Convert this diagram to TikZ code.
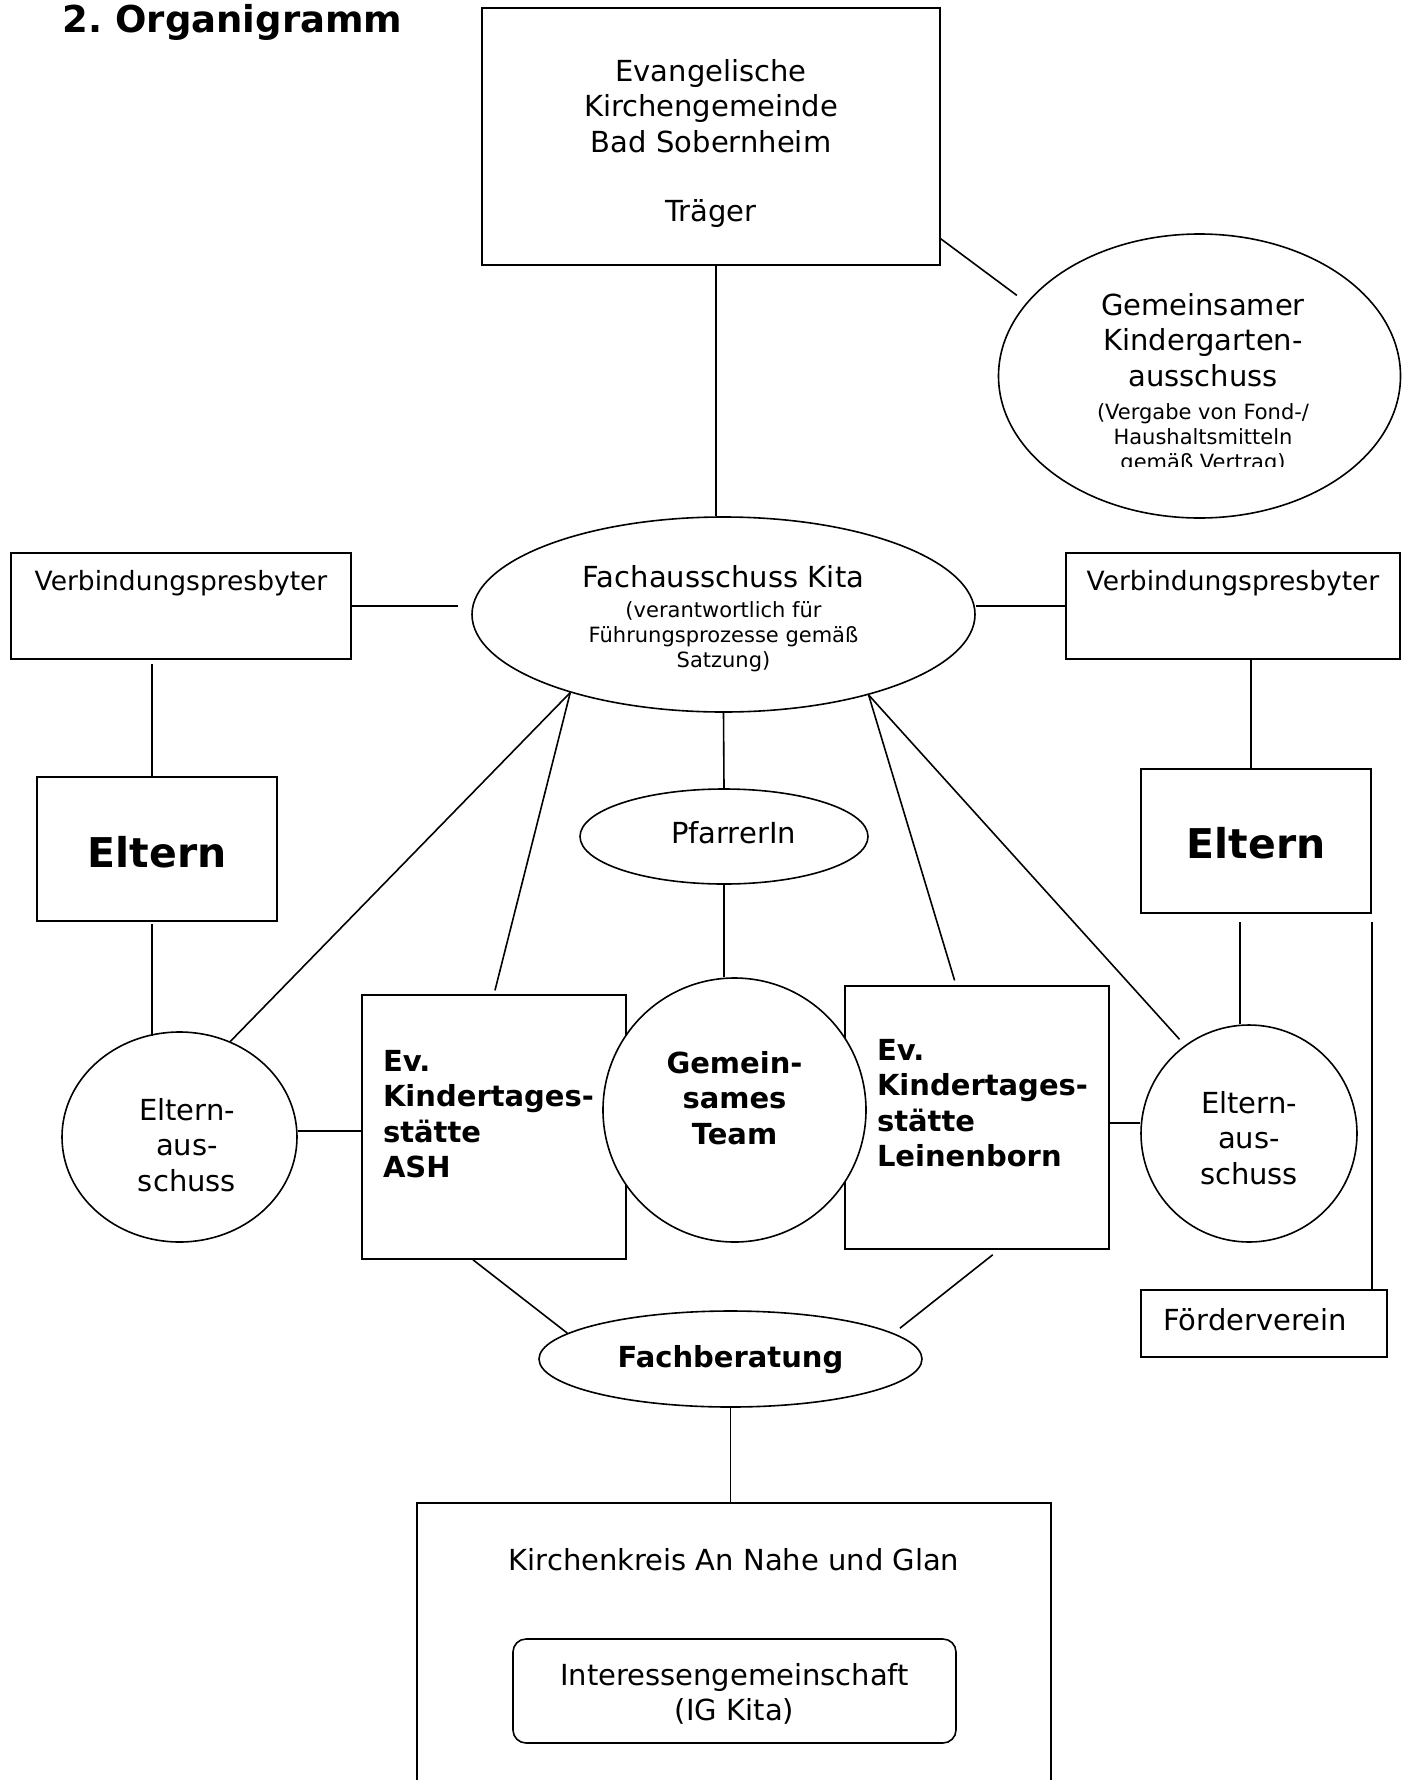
\documentclass[tikz,border=0pt]{standalone}
\usepackage{fontspec}
\setmainfont{DejaVu Sans}
\usetikzlibrary{shapes.geometric}
\frenchspacing
\newcommand{\fnorm}{\fontsize{29}{35.5}\selectfont}
\newcommand{\fsmall}{\fontsize{21}{25}\selectfont\spaceskip=.318em\relax}
\newcommand{\fvp}{\fontsize{26.5}{32}\selectfont}
\newcommand{\fbig}{\fontsize{41}{49}\selectfont\bfseries}
\newcommand{\ftitle}{\fontsize{37}{44}\selectfont\bfseries}

\begin{document}
\begin{tikzpicture}[x=1pt, y=-1pt, line width=1.6pt,
  box/.style={draw, rectangle, inner sep=0pt},
  ell/.style={draw, ellipse, inner sep=0pt}]
\useasboundingbox (0,0) rectangle (1402,1780);
\node (title) [anchor=base west, inner sep=0pt, font=\ftitle] at (62,32) {2. Organigramm};

% Traeger und Ausschuesse
\node (T) [box, minimum width=458pt, minimum height=257pt, text width=300pt, align=center, font=\fnorm, text height=22pt, text depth=133pt] at (711,136.5) {Evangelische\\Kirchengemeinde\\Bad Sobernheim\\[33.5pt]Träger};
\node (GKA) [ell, minimum width=402pt, minimum height=284pt] at (1199.5,376) {};
\begin{scope}
\clip (1000,240) rectangle (1400,466);
\node (GKAt) [inner sep=0pt, anchor=base, text width=300pt, align=center, font=\fnorm] at (1203,315) {Gemeinsamer\\Kindergarten-\\ausschuss\par\vspace{8pt}\fsmall (Vergabe von Fond-/\\Haushaltsmitteln\\gemäß Vertrag)\par};
\end{scope}
\node (FA) [ell, minimum width=503pt, minimum height=195pt, text width=330pt, align=center, font=\fnorm, text height=22pt, text depth=77pt] at (723.5,614.5) {Fachausschuss Kita\par\vspace{5pt}\fsmall (verantwortlich für\\Führungsprozesse gemäß\\Satzung)\par};
\node (VP1) [box, minimum width=340pt, minimum height=106pt, font=\fvp, text height=20pt, text depth=51pt] at (181,606) {Verbindungspresbyter};
\node (VP2) [box, minimum width=334pt, minimum height=106pt, font=\fvp, text height=20pt, text depth=51pt] at (1233,606) {Verbindungspresbyter};

% Eltern
\node (E1) [box, minimum width=240pt, minimum height=144pt, font=\fbig, text height=36pt, text depth=0pt] at (157,849) {Eltern};
\node (E2) [box, minimum width=230pt, minimum height=144pt, font=\fbig, text height=34pt, text depth=0pt] at (1256,841) {Eltern};
\node (LEA) [ell, minimum width=235pt, minimum height=210pt, text width=130pt, align=center, font=\fnorm, text height=22pt, text depth=56pt] at (179.5,1137) {\hspace*{15pt}Eltern-\\\hspace*{15pt}aus-\\\hspace*{15pt}schuss};
\node (REA) [ell, minimum width=216pt, minimum height=217pt, text width=110pt, align=center, font=\fnorm, text height=22pt, text depth=63pt] at (1249,1133.5) {Eltern-\\aus-\\schuss};
\node (FV) [box, minimum width=246pt, minimum height=67pt, font=\fnorm, text height=22pt, text depth=9pt] at (1264,1323.5) {Förderverein\hspace*{18pt}};

% Kitas
\node (Pf) [ell, minimum width=288pt, minimum height=95pt, font=\fnorm, text height=22pt, text depth=9pt] at (724,836.5) {\hspace*{19pt}PfarrerIn};
\node (ASH) [box, minimum width=264pt, minimum height=264pt, text width=222pt, align=left, font=\fnorm\bfseries, text height=22pt, text depth=134pt] at (494,1127) {Ev.\\Kindertages-\\stätte\\ASH};
\node (Lb) [box, minimum width=264pt, minimum height=263pt, text width=200pt, align=left, font=\fnorm\bfseries, text height=22pt, text depth=137pt] at (977,1117.5) {Ev.\\\mbox{Kindertages-}\\stätte\\Leinenborn};
\node (Team) [ell, fill=white, minimum width=263pt, minimum height=264pt, text width=160pt, align=center, font=\fnorm\bfseries, text height=22pt, text depth=96pt] at (734.5,1110) {Gemein-\\sames\\Team};
\node (FB) [ell, minimum width=383pt, minimum height=96pt, font=\fnorm\bfseries, text height=22pt, text depth=6pt] at (730.5,1359) {Fachberatung};

% Kirchenkreis
\node (KK) [box, minimum width=634pt, minimum height=317pt, font=\fnorm, text height=22pt, text depth=205pt] at (734,1661.5) {Kirchenkreis An Nahe und Glan};
\node (IG) [box, rounded corners=13pt, minimum width=443pt, minimum height=104pt, text width=380pt, align=center, font=\fnorm, text height=22pt, text depth=34pt] at (734.5,1691) {Interessengemeinschaft\\(IG Kita)};

% Verbindungen
\draw ([xshift=5pt]T.south) -- ([xshift=5pt]T.south |- FA.north);
\draw[shorten >=12pt] (T.-24) -- (GKA.157);
\draw[shorten >=13pt] (VP1.east) -- (VP1.east -| FA.west);
\draw (VP2.west) -- (VP2.west -| FA.east);
\draw[shorten <=4pt] ([xshift=-5pt]E1.north |- VP1.south) -- ([xshift=-5pt]E1.north);
\draw[shorten <=2pt, shorten >=-5pt] ([xshift=-5pt]E1.south) -- ([xshift=-5pt]E1.south |- LEA.north);
\draw ([xshift=-5pt]E2.north |- VP2.south) -- ([xshift=-5pt]E2.north);
\draw[shorten <=8pt] ([xshift=-16pt]E2.south) -- ([xshift=-16pt]E2.south |- REA.north);
\draw[shorten <=8pt] (E2.south east) -- (E2.south east |- FV.north);
\draw (FA.207) -- (LEA.62);
\draw[shorten >=4pt] (FA.207) -- (ASH.north);
\draw (FA.south) -- (Pf.north);
\draw[shorten >=5pt] (FA.331) -- (Lb.99);
\draw[shorten >=8pt] (FA.331) -- (REA.126);
\draw (Pf.south) -- (Pf.south |- Team.north);
\draw ([yshift=-4pt]ASH.west) -- ([yshift=-4pt]ASH.west -| LEA.east);
\draw ([yshift=-5.5pt]Lb.east) -- ([yshift=-5.5pt]Lb.east -| REA.west);
\draw ([xshift=-21pt]ASH.south) -- (FB.171);
\draw[shorten <=8pt, shorten >=8pt] ([xshift=22pt]Lb.south) -- (FB.9);
\draw (FB.south) -- (FB.south |- KK.north);
\end{tikzpicture}
\end{document}
